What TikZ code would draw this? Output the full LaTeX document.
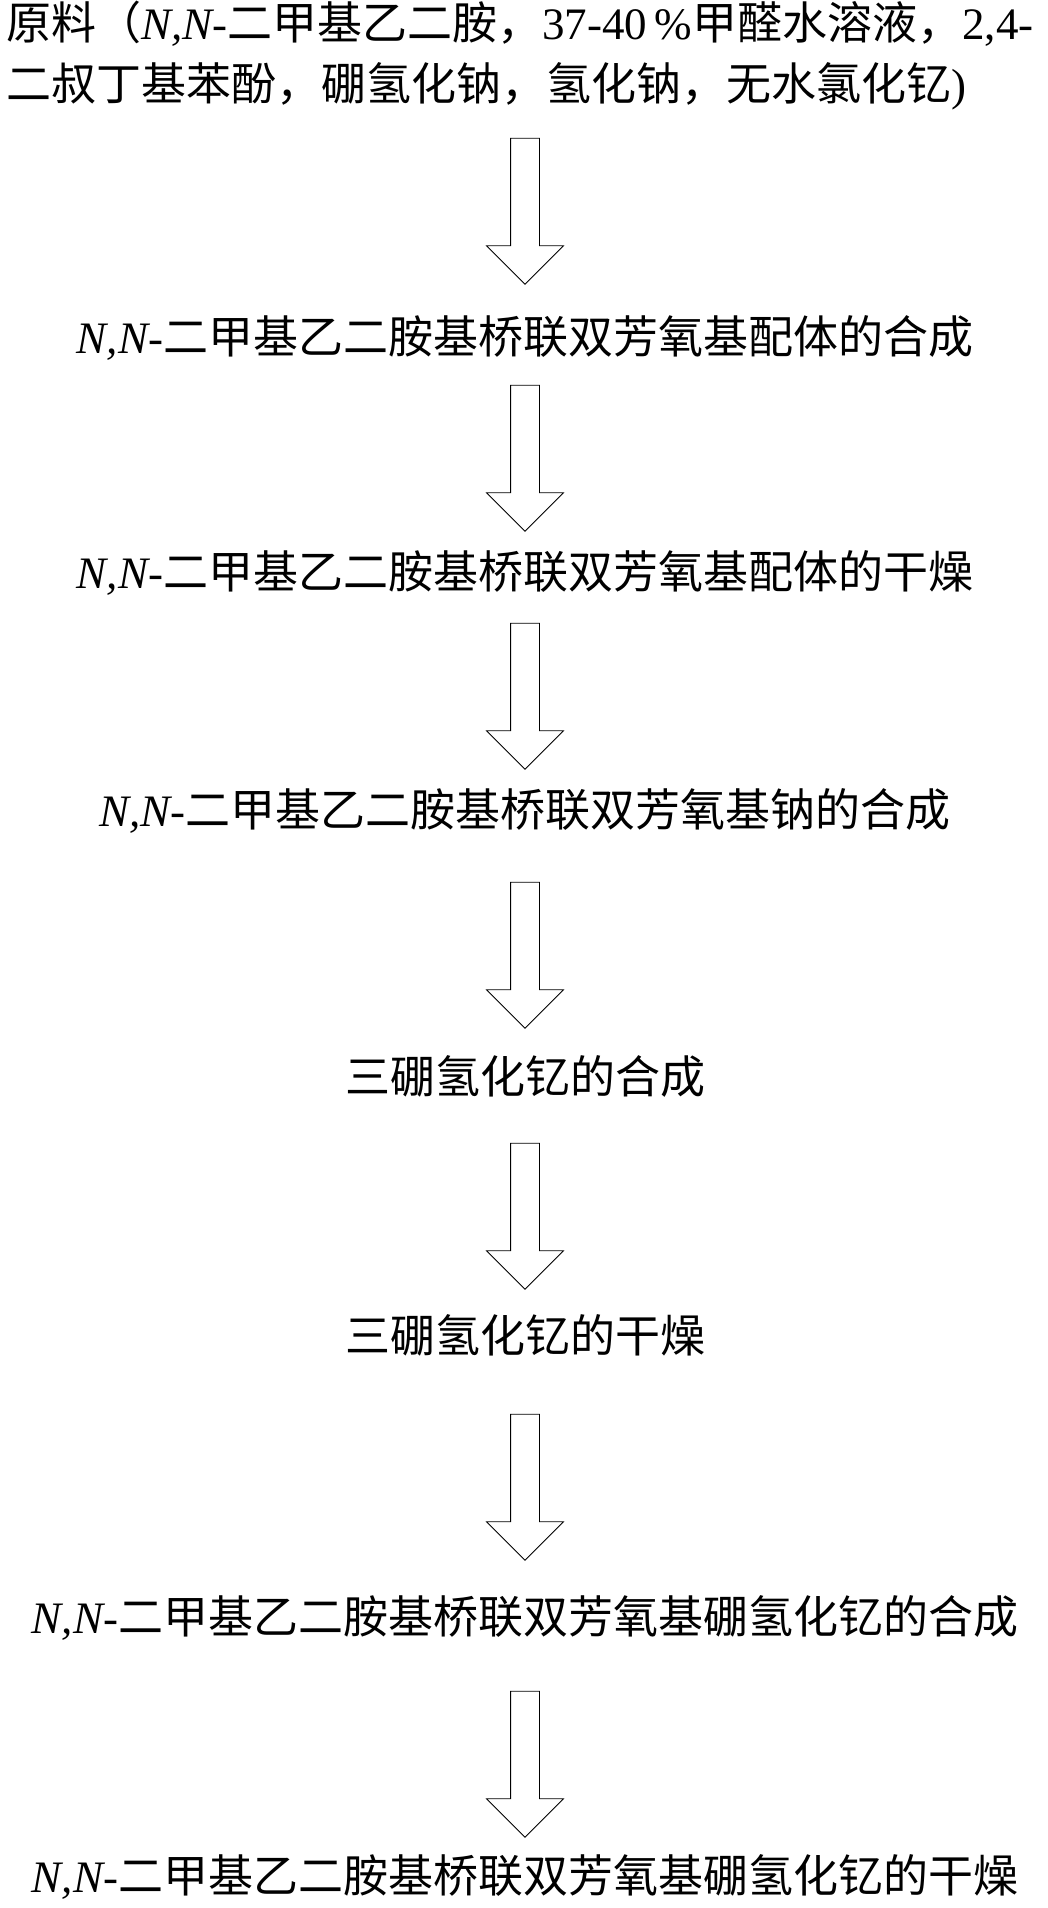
\documentclass[tikz,border=0pt]{standalone}
\usepackage{fontspec}
\setmainfont{Liberation Serif}
\newfontfamily\cjk{Noto Sans CJK SC}
\usetikzlibrary{shapes.arrows}
\newcommand{\nn}{{\rmfamily\itshape N,N}{\rmfamily-}}
\newcommand{\lat}[1]{{\rmfamily #1}}
\tikzset{
  stage/.style={inner sep=0pt, font=\cjk\fontsize{45}{52}\selectfont},
  flow/.style={single arrow, draw, thick, fill=white, shape border rotate=270,
    minimum height=146pt, minimum width=76pt, single arrow head extend=24pt,
    single arrow head indent=0pt, inner sep=14pt}
}
\begin{document}
\begin{tikzpicture}[x=1pt,y=-1pt]
  \useasboundingbox (0,0) rectangle (1048,1908);
  % raw materials
  \node[stage, anchor=west] (raw1) at (6,24) {原料（\nn 二甲基乙二胺，\lat{37-40\,\%}甲醛水溶液，\lat{2,4-}};
  \node[stage, anchor=west] (raw2) at (6,86) {二叔丁基苯酚，硼氢化钠，氢化钠，无水氯化钇\lat{)}};
  % steps
  \node[stage] (lig)    at (525,338)  {\nn 二甲基乙二胺基桥联双芳氧基配体的合成};
  \node[stage] (ligdry) at (525,573)  {\nn 二甲基乙二胺基桥联双芳氧基配体的干燥};
  \node[stage] (na)     at (525,811)  {\nn 二甲基乙二胺基桥联双芳氧基钠的合成};
  \node[stage] (ybh)    at (525,1076) {三硼氢化钇的合成};
  \node[stage] (ybhdry) at (525,1335) {三硼氢化钇的干燥};
  \node[stage] (prod)   at (525,1618) {\nn 二甲基乙二胺基桥联双芳氧基硼氢化钇的合成};
  \node[stage] (proddry) at (525,1877) {\nn 二甲基乙二胺基桥联双芳氧基硼氢化钇的干燥};
  % arrows
  \node[flow] (a1) at (525,204)  {};
  \node[flow] (a2) at (525,451)  {};
  \node[flow] (a3) at (525,689)  {};
  \node[flow] (a4) at (525,948)  {};
  \node[flow] (a5) at (525,1209) {};
  \node[flow] (a6) at (525,1480) {};
  \node[flow] (a7) at (525,1757) {};
\end{tikzpicture}
\end{document}
